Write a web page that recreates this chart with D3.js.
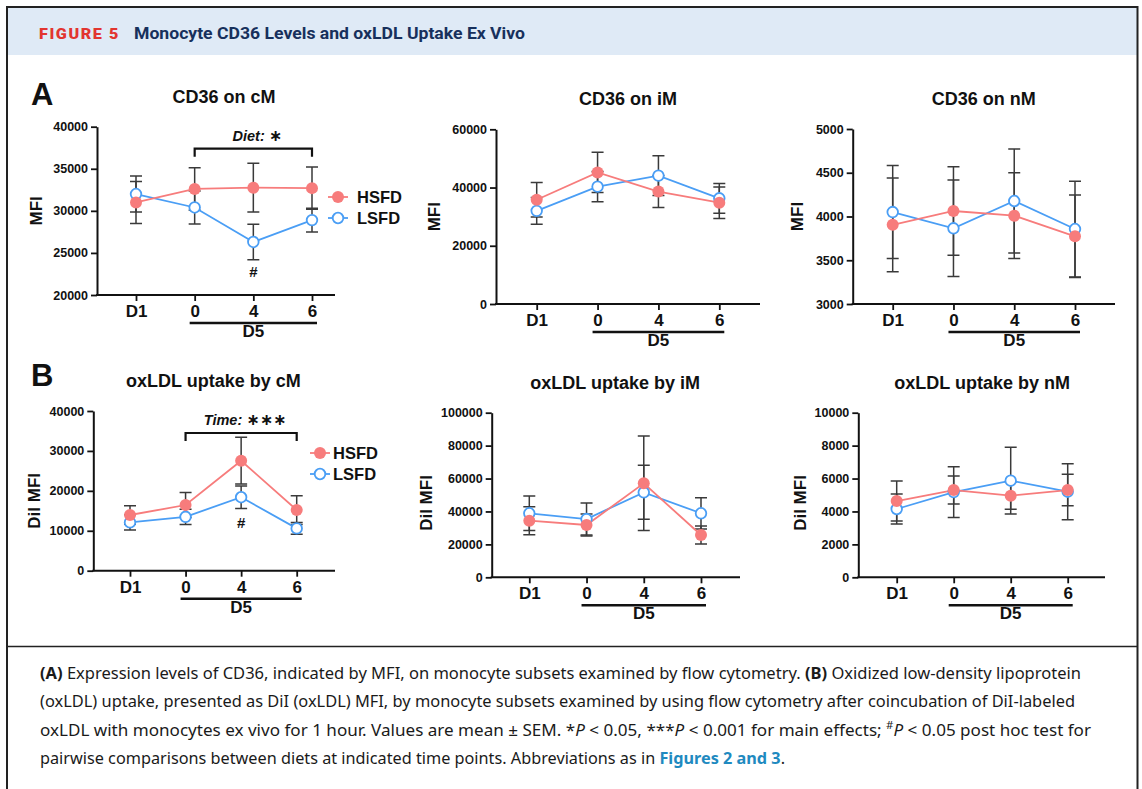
<!DOCTYPE html>
<html>
<head>
<meta charset="utf-8">
<script src="https://cdn.jsdelivr.net/npm/d3@7"></script>
<style>
  body { margin: 0; background: #fff; }
  svg text { font-family: "Liberation Sans", Arial, sans-serif; }
</style>
</head>
<body>
<div id="container"></div>
<script>
var width = 1142;
var height = 789;

var timepoints = ["D1", "0", "4", "6"];

// CD36 (MFI)
var hsfdCd36cM = [31000, 32600, 32750, 32700];
var hsfdCd36cMErr = [2500, 2530, 2900, 2500];
var lsfdCd36cM = [32000, 30400, 26300, 28900];
var lsfdCd36cMErr = [2150, 1950, 2100, 1400];

var hsfdCd36iM = [35800, 45200, 38600, 34800];
var hsfdCd36iMErr = [5900, 6900, 5500, 5400];
var lsfdCd36iM = [32000, 40300, 44100, 36300];
var lsfdCd36iMErr = [4600, 5200, 6800, 5100];

var hsfdCd36nM = [3905, 4063, 4009, 3774];
var hsfdCd36nMErr = [535, 505, 490, 472];
var lsfdCd36nM = [4051, 3865, 4177, 3857];
var lsfdCd36nMErr = [532, 552, 595, 547];

// oxLDL uptake (DiI MFI)
var hsfdOxcM = [13950, 16450, 27550, 15200];
var hsfdOxcMErr = [2330, 3150, 5850, 3600];
var lsfdOxcM = [12100, 13500, 18400, 10600];
var lsfdOxcMErr = [1920, 1900, 2800, 1450];

var hsfdOxiM = [34400, 31800, 57100, 25700];
var hsfdOxiMErr = [8500, 6700, 28700, 5500];
var lsfdOxiM = [38900, 35400, 51600, 38900];
var lsfdOxiMErr = [10500, 9700, 16400, 9500];

var hsfdOxnM = [4630, 5300, 4960, 5300];
var hsfdOxnMErr = [1215, 850, 830, 955];
var lsfdOxnM = [4150, 5180, 5870, 5200];
var lsfdOxnMErr = [910, 1540, 2030, 1700];

var ticksCd36cM = [20000, 25000, 30000, 35000, 40000];
var ticksCd36iM = [0, 20000, 40000, 60000];
var ticksCd36nM = [3000, 3500, 4000, 4500, 5000];
var ticksOxcM = [0, 10000, 20000, 30000, 40000];
var ticksOxiM = [0, 20000, 40000, 60000, 80000, 100000];
var ticksOxnM = [0, 2000, 4000, 6000, 8000, 10000];

var seriesNames = ["HSFD", "LSFD"];
var color = d3.scaleOrdinal().domain(seriesNames).range(["#f77c7c", "#4a9ef5"]);

var panels = [
  {title: "CD36 on cM", ylab: "MFI", h: hsfdCd36cM, he: hsfdCd36cMErr, l: lsfdCd36cM, le: lsfdCd36cMErr,
   ticks: ticksCd36cM, axisX: 97, top: 126.7, bottom: 295, xEnd: 335, x0: 136, x3: 312, labOff: 55, labDy: 0,
   letter: "A", letterY: 105, bracket: "Diet:", stars: "\u2217", hash: 22100, legend: {x: 338, y: 197, tx: 357}},
  {title: "CD36 on iM", ylab: "MFI", h: hsfdCd36iM, he: hsfdCd36iMErr, l: lsfdCd36iM, le: lsfdCd36iMErr,
   ticks: ticksCd36iM, axisX: 496, top: 129.3, bottom: 304, xEnd: 760, x0: 536.7, x3: 719.3, labOff: 56, labDy: 0},
  {title: "CD36 on nM", ylab: "MFI", h: hsfdCd36nM, he: hsfdCd36nMErr, l: lsfdCd36nM, le: lsfdCd36nMErr,
   ticks: ticksCd36nM, axisX: 852.7, top: 129, bottom: 304, xEnd: 1115, x0: 892.7, x3: 1075, labOff: 50, labDy: 0},
  {title: "oxLDL uptake by cM", ylab: "DiI MFI", h: hsfdOxcM, he: hsfdOxcMErr, l: lsfdOxcM, le: lsfdOxcMErr,
   ticks: ticksOxcM, axisX: 93.3, top: 411, bottom: 570.7, xEnd: 335, x0: 130, x3: 296.7, labOff: 53, labDy: 10,
   letter: "B", letterY: 386, bracket: "Time:", stars: "\u2217\u2217\u2217", hash: 10700, legend: {x: 320, y: 453, tx: 333}},
  {title: "oxLDL uptake by iM", ylab: "DiI MFI", h: hsfdOxiM, he: hsfdOxiMErr, l: lsfdOxiM, le: lsfdOxiMErr,
   ticks: ticksOxiM, axisX: 491.7, top: 412.7, bottom: 577.3, xEnd: 740, x0: 529.3, x3: 701, labOff: 60, labDy: 8},
  {title: "oxLDL uptake by nM", ylab: "DiI MFI", h: hsfdOxnM, he: hsfdOxnMErr, l: lsfdOxnM, le: lsfdOxnMErr,
   ticks: ticksOxnM, axisX: 858.3, top: 412.7, bottom: 577.3, xEnd: 1105, x0: 896.7, x3: 1067.7, labOff: 52, labDy: 8}
];

var captionLines = [
  [["b", "(A)"], ["n", " Expression levels of CD36, indicated by MFI, on monocyte subsets examined by flow cytometry. "], ["b", "(B)"], ["n", " Oxidized low-density lipoprotein"]],
  [["n", "(oxLDL) uptake, presented as DiI (oxLDL) MFI, by monocyte subsets examined by using flow cytometry after coincubation of DiI-labeled"]],
  [["n", "oxLDL with monocytes ex vivo for 1 hour. Values are mean \u00b1 SEM. *"], ["i", "P"], ["n", " < 0.05, ***"], ["i", "P"], ["n", " < 0.001 for main effects; "], ["s", "#"], ["i", "P"], ["n", " < 0.05 post hoc test for"]],
  [["n", "pairwise comparisons between diets at indicated time points. Abbreviations as in "], ["l", "Figures 2 and 3"], ["n", "."]]
];
var captionEnds = [1081, 1075, 1091, 785];

var svg = d3.select('#container').append('svg').attr('width', width).attr('height', height);

// frame + header
svg.append('rect').attr('x', 8).attr('y', 8).attr('width', 1129).attr('height', 47).attr('fill', '#dfeaf6');
svg.append('path').attr('d', 'M7,790 V7 H1137.5 V790').attr('fill', 'none').attr('stroke', '#222').attr('stroke-width', 2);
svg.append('line').attr('x1', 7).attr('x2', 1138).attr('y1', 646.5).attr('y2', 646.5).attr('stroke', '#222').attr('stroke-width', 1.5);

svg.append('text').attr('x', 39).attr('y', 39)
  .attr('textLength', 81).attr('lengthAdjust', 'spacingAndGlyphs')
  .style('font-family', 'Roboto, sans-serif').style('font-weight', 900).style('font-size', '15.5px')
  .style('letter-spacing', '1.5px')
  .attr('fill', '#e2352f').text('FIGURE 5');
svg.append('text').attr('x', 134).attr('y', 39)
  .attr('textLength', 391).attr('lengthAdjust', 'spacingAndGlyphs')
  .style('font-family', 'Roboto, sans-serif').style('font-weight', 700).style('font-size', '17px')
  .attr('fill', '#17305c').text('Monocyte CD36 Levels and oxLDL Uptake Ex Vivo');

panels.forEach(function(p) {
  var x = d3.scalePoint().domain(timepoints).range([p.x0, p.x3]);
  var y = d3.scaleLinear().domain(d3.extent(p.ticks)).range([p.bottom, p.top]);
  var g = svg.append('g');

  // y axis
  var yAxis = g.append('g').attr('transform', 'translate(' + p.axisX + ',0)')
    .call(d3.axisLeft(y).tickValues(p.ticks).tickSize(6).tickSizeOuter(0).tickPadding(3).tickFormat(d3.format('d')));
  yAxis.select('.domain').attr('stroke', '#111').attr('stroke-width', 2);
  yAxis.selectAll('.tick line').attr('stroke', '#111').attr('stroke-width', 1.8);
  yAxis.selectAll('.tick text').attr('fill', '#111')
    .style('font-family', '"Liberation Sans", Arial, sans-serif').style('font-weight', 'bold').style('font-size', '12.5px');

  // x axis
  g.append('line').attr('x1', p.axisX - 1).attr('x2', p.xEnd).attr('y1', p.bottom).attr('y2', p.bottom)
    .attr('stroke', '#111').attr('stroke-width', 2);
  var xAxis = g.append('g').attr('transform', 'translate(0,' + p.bottom + ')')
    .call(d3.axisBottom(x).tickSize(6).tickPadding(4));
  xAxis.select('.domain').remove();
  xAxis.selectAll('.tick line').attr('stroke', '#111').attr('stroke-width', 1.8);
  xAxis.selectAll('.tick text').attr('fill', '#111')
    .style('font-family', '"Liberation Sans", Arial, sans-serif').style('font-weight', 'bold').style('font-size', '17px');

  // D5 underline
  g.append('line').attr('x1', x("0") - 5).attr('x2', x("6") + 5)
    .attr('y1', p.bottom + 28).attr('y2', p.bottom + 28).attr('stroke', '#111').attr('stroke-width', 2.5);
  g.append('text').attr('x', (x("0") + x("6")) / 2).attr('y', p.bottom + 42).attr('text-anchor', 'middle')
    .style('font-weight', 'bold').style('font-size', '17px').attr('fill', '#111').text('D5');

  // titles
  g.append('text').attr('x', (p.x0 + p.x3) / 2).attr('y', p.top - 24).attr('text-anchor', 'middle')
    .style('font-weight', 'bold').style('font-size', '18px').attr('fill', '#111').text(p.title);
  g.append('text')
    .attr('transform', 'translate(' + (p.axisX - p.labOff) + ',' + ((p.top + p.bottom) / 2 + p.labDy) + ') rotate(-90)')
    .attr('text-anchor', 'middle').style('font-weight', 'bold').style('font-size', '17px').attr('fill', '#111').text(p.ylab);

  if (p.letter) {
    g.append('text').attr('x', 31).attr('y', p.letterY).style('font-weight', 'bold').style('font-size', '31px')
      .attr('fill', '#111').text(p.letter);
  }

  var series = [
    {name: "LSFD", values: p.l, err: p.le},
    {name: "HSFD", values: p.h, err: p.he}
  ];

  // error bars
  series.forEach(function(s) {
    var eb = g.append('g').attr('stroke', '#3a3a3a').attr('stroke-width', 1.5).attr('fill', 'none');
    eb.selectAll('path').data(timepoints).enter().append('path')
      .attr('d', function(t, i) {
        var cx = x(t), hi = y(s.values[i] + s.err[i]), lo = y(s.values[i] - s.err[i]);
        return 'M' + cx + ',' + hi + 'V' + lo + 'M' + (cx - 6) + ',' + hi + 'H' + (cx + 6) + 'M' + (cx - 6) + ',' + lo + 'H' + (cx + 6);
      });
  });

  var line = d3.line().x(function(d, i) { return x(timepoints[i]); }).y(function(d) { return y(d); });

  series.forEach(function(s) {
    g.append('path').datum(s.values).attr('d', line).attr('fill', 'none')
      .attr('stroke', color(s.name)).attr('stroke-width', 1.8);
  });
  series.forEach(function(s) {
    g.selectAll(null).data(s.values).enter().append('circle')
      .attr('cx', function(d, i) { return x(timepoints[i]); })
      .attr('cy', function(d) { return y(d); })
      .attr('r', s.name === "HSFD" ? 6 : 5.3)
      .attr('fill', s.name === "HSFD" ? color(s.name) : '#fff')
      .attr('stroke', color(s.name)).attr('stroke-width', s.name === "HSFD" ? 0 : 1.8);
  });

  if (p.bracket) {
    var by = p.top + 22;
    g.append('path')
      .attr('d', 'M' + x("0") + ',' + (by + 8) + 'V' + by + 'H' + x("6") + 'V' + (by + 8))
      .attr('fill', 'none').attr('stroke', '#111').attr('stroke-width', 2.2);
    var bt = g.append('text').attr('x', (x("0") + x("6")) / 2 + 4).attr('y', by - 8).attr('text-anchor', 'middle')
      .style('font-weight', 'bold').style('font-size', '14.5px').attr('fill', '#111');
    bt.append('tspan').style('font-style', 'italic').text(p.bracket + ' ');
    bt.append('tspan').style('font-family', '"DejaVu Sans", sans-serif').style('font-size', '16px').text(p.stars);

    g.append('text').attr('x', x("4")).attr('y', y(p.hash)).attr('text-anchor', 'middle')
      .style('font-weight', 'bold').style('font-size', '15px').attr('fill', '#111').text('#');

    var lg = g.append('g').selectAll('g').data(seriesNames).enter().append('g')
      .attr('transform', function(d, i) { return 'translate(' + p.legend.x + ',' + (p.legend.y + i * 21) + ')'; });
    lg.append('line').attr('x1', -10).attr('x2', 10).attr('stroke', function(d) { return color(d); }).attr('stroke-width', 1.8);
    lg.append('circle').attr('r', function(d) { return d === "HSFD" ? 6 : 5.3; })
      .attr('fill', function(d) { return d === "HSFD" ? color(d) : '#fff'; })
      .attr('stroke', color).attr('stroke-width', function(d) { return d === "HSFD" ? 0 : 1.8; });
    lg.append('text').attr('x', p.legend.tx - p.legend.x).attr('y', 6)
      .style('font-weight', 'bold').style('font-size', '16.5px').attr('fill', '#111').text(function(d) { return d; });
  }
});

// caption
captionLines.forEach(function(parts, i) {
  var t = svg.append('text').attr('x', 40).attr('y', 679 + i * 28.3)
    .attr('textLength', captionEnds[i] - 40).attr('lengthAdjust', 'spacingAndGlyphs')
    .style('font-family', '"Noto Sans", "Open Sans", sans-serif').style('font-size', '16.5px').attr('fill', '#1a1a1a');
  parts.forEach(function(pt) {
    var s = t.append('tspan').text(pt[1]);
    if (pt[0] === 'b') s.style('font-weight', 'bold');
    if (pt[0] === 'i') s.style('font-style', 'italic');
    if (pt[0] === 's') s.attr('baseline-shift', 'super').style('font-size', '11px');
    if (pt[0] === 'l') s.style('font-weight', 'bold').attr('fill', '#1f8ac0');
  });
});
</script>
</body>
</html>
